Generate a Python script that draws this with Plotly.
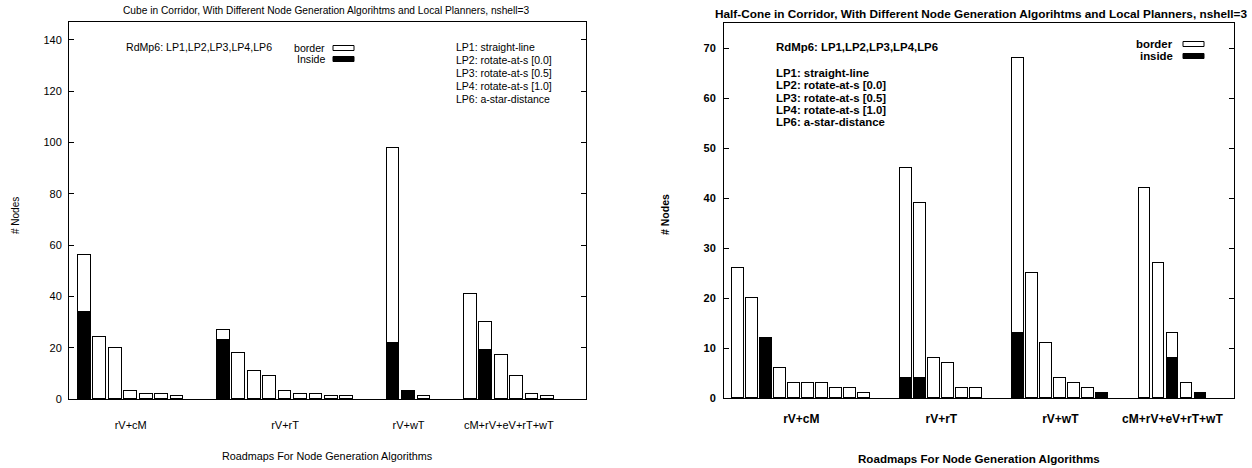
import plotly.graph_objects as go

# ---------------- data ----------------
group_labels = ["rV+cM", "rV+rT", "rV+wT", "cM+rV+eV+rT+wT"]

# Left panel: Cube in Corridor
cube_group_start = [0, 9, 20, 25]          # slot index of first bar in each group
cube_border = [[22, 24, 20, 3, 2, 2, 1],
               [4, 18, 11, 9, 3, 2, 2, 1, 1],
               [76, 0, 1],
               [41, 11, 17, 9, 2, 1]]
cube_inside = [[34, 0, 0, 0, 0, 0, 0],
               [23, 0, 0, 0, 0, 0, 0, 0, 0],
               [22, 3, 0],
               [0, 19, 0, 0, 0, 0]]

# Right panel: Half-Cone in Corridor
cone_group_start = [0, 12, 20, 29]
cone_border = [[26, 20, 0, 6, 3, 3, 3, 2, 2, 1],
               [42, 35, 8, 7, 2, 2],
               [55, 25, 11, 4, 3, 2, 0],
               [42, 27, 5, 3, 0]]
cone_inside = [[0, 0, 12, 0, 0, 0, 0, 0, 0, 0],
               [4, 4, 0, 0, 0, 0],
               [13, 0, 0, 0, 0, 0, 1],
               [0, 0, 8, 0, 1]]

lp_lines = ["LP1: straight-line", "LP2: rotate-at-s [0.0]", "LP3: rotate-at-s [0.5]",
            "LP4: rotate-at-s [1.0]", "LP6: a-star-distance"]
rdmp_text = "RdMp6: LP1,LP2,LP3,LP4,LP6"

W, H = 1252, 468
FONT = "Liberation Sans, Arial, sans-serif"


def px(x):
    return x / W


def py(y):
    return 1 - y / H


def flatten(starts, groups):
    xs, ys = [], []
    for s, g in zip(starts, groups):
        for i, v in enumerate(g):
            xs.append(s + i)
            ys.append(v if v else None)
    return xs, ys


def centers(starts, groups):
    return [s + (len(g) - 1) / 2 for s, g in zip(starts, groups)]


fig = go.Figure()

panels = [
    dict(starts=cube_group_start, border=cube_border, inside=cube_inside, xa="x", ya="y", width=0.83),
    dict(starts=cone_group_start, border=cone_border, inside=cone_inside, xa="x2", ya="y2", width=0.84),
]
for p in panels:
    xi, yi = flatten(p["starts"], p["inside"])
    xb, yb = flatten(p["starts"], p["border"])
    fig.add_trace(go.Bar(x=xi, y=yi, width=p["width"], xaxis=p["xa"], yaxis=p["ya"],
                         marker=dict(color="black", line=dict(color="black", width=1)),
                         name="inside", showlegend=False))
    fig.add_trace(go.Bar(x=xb, y=yb, width=p["width"], xaxis=p["xa"], yaxis=p["ya"],
                         marker=dict(color="white", line=dict(color="black", width=1)),
                         name="border", showlegend=False))

axis_common = dict(showline=True, linecolor="black", linewidth=1, mirror=True,
                   showgrid=False, zeroline=False, automargin=False)

fig.update_layout(
    template="none",
    width=W, height=H, margin=dict(l=0, r=0, t=0, b=0, pad=0), autosize=False,
    paper_bgcolor="white", plot_bgcolor="white", barmode="stack", bargap=0,
    xaxis=dict(domain=[px(69), px(586)], range=[-1.0, 32.5], anchor="y",
               tickvals=centers(cube_group_start, cube_border), ticktext=group_labels, ticks="",
               ticklabelstandoff=16,
               tickfont=dict(family=FONT, size=11, color="black"), **axis_common),
    yaxis=dict(domain=[py(399), py(22)], range=[0, 147], anchor="x",
               tickvals=list(range(0, 141, 20)), ticks="inside", ticklen=5,
               tickcolor="black", tickwidth=1, ticklabelstandoff=4,
               tickfont=dict(family=FONT, size=11, color="black"),
               **{**axis_common, "mirror": "ticks"}),
    xaxis2=dict(domain=[px(724), px(1234)], range=[-1.02, 35.4], anchor="y2",
                tickvals=centers(cone_group_start, cone_border), ticktext=group_labels, ticks="",
                ticklabelstandoff=10,
                tickfont=dict(family=FONT, size=12, color="black", weight="bold"), **axis_common),
    yaxis2=dict(domain=[py(398), py(23)], range=[0, 75], anchor="x2",
                tickvals=list(range(0, 71, 10)), ticks="inside", ticklen=5,
                tickcolor="black", tickwidth=1, ticklabelstandoff=5,
                tickfont=dict(family=FONT, size=11, color="black", weight="bold"),
                **{**axis_common, "mirror": "ticks"}),
)

ann = []
shapes = []


def text(x, y, s, size=11, bold=False, xanchor="left", angle=0):
    ann.append(dict(x=px(x), y=py(y), xref="paper", yref="paper", text=s, showarrow=False,
                    xanchor=xanchor, yanchor="middle", textangle=angle,
                    font=dict(family=FONT, size=size, color="black",
                              weight="bold" if bold else "normal")))


def keybox(x0, x1, yc, fill):
    shapes.append(dict(type="rect", xref="paper", yref="paper",
                       x0=px(x0), x1=px(x1), y0=py(yc + 2.5), y1=py(yc - 2.5),
                       fillcolor=fill, line=dict(color="black", width=1)))


# Left panel texts
text(326, 10.5, "Cube in Corridor, With Different Node Generation Algorihtms and Local Planners, nshell=3",
     size=10.2, xanchor="center")
text(124, 47, rdmp_text, size=10.6)
for i, s in enumerate(lp_lines):
    text(454, 47.3 + i * 12.8, s, size=10.5)
text(327, 48, "border", size=10.6, xanchor="right")
keybox(333, 354, 48, "white")
text(327, 59, "Inside", size=10.6, xanchor="right")
keybox(333, 354, 59, "black")
text(15, 216, "# Nodes", size=10, xanchor="center", angle=-90)
text(327, 456, "Roadmaps For Node Generation Algorithms", size=10.8, xanchor="center")

# Right panel texts
text(981, 13.5, "Half-Cone in Corridor, With Different Node Generation Algorihtms and Local Planners, nshell=3",
     size=11.8, bold=True, xanchor="center")
text(774, 46.7, rdmp_text, size=11.4, bold=True)
for i, s in enumerate(lp_lines):
    text(774, 72.7 + i * 12.4, s, size=11.4, bold=True)
text(1175, 44, "border", size=11.4, bold=True, xanchor="right")
keybox(1183, 1204, 44, "white")
text(1175, 56, "inside", size=11.4, bold=True, xanchor="right")
keybox(1183, 1204, 56, "black")
text(665, 215, "# Nodes", size=10.5, bold=True, xanchor="center", angle=-90)
text(979, 458, "Roadmaps For Node Generation Algorithms", size=11.6, bold=True, xanchor="center")

fig.update_layout(annotations=ann, shapes=shapes)
fig.write_html("out.html")
